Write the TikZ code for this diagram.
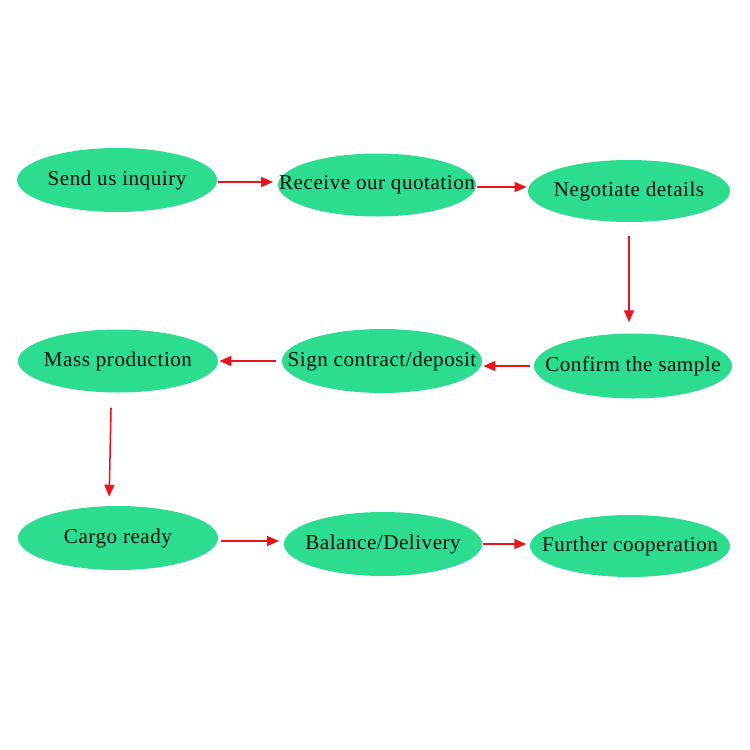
\documentclass[tikz,border=0pt]{standalone}
\usepackage{fontspec}
\setmainfont{Liberation Serif}[LetterSpace=2.5]
\usetikzlibrary{arrows.meta,shapes.geometric}
\definecolor{Leaf}{HTML}{2CDC8F}
\definecolor{Flow}{HTML}{E8141B}
\definecolor{Ink}{HTML}{111111}

\begin{document}
\begin{tikzpicture}[x=0.03cm,y=-0.03cm,>={Triangle[length=0.36cm,width=0.3cm]},
  step box/.style={ellipse,fill=Leaf,draw=none,inner xsep=-1.2cm,inner ysep=0pt,minimum width=6cm,minimum height=1.92cm,text=Ink,font=\fontsize{18}{21}\selectfont},
  flow/.style={->,draw=Flow,line width=1.3pt}]
\useasboundingbox[fill=white] (0,0) rectangle (750,750);
% first row
\node[step box] (inquiry) at (117,180) {Send us inquiry};
\node[step box,minimum width=5.94cm,minimum height=1.89cm] (quotation) at (377,185) {Receive our quotation};
\node[step box,minimum width=6.06cm,minimum height=1.86cm] (negotiate) at (629,191) {Negotiate details};
% second row
\node[step box,minimum width=5.94cm,minimum height=1.95cm] (sample) at (633,366) {Confirm the sample};
\node[step box] (contract) at (382,361) {Sign contract/deposit};
\node[step box,minimum height=1.89cm] (production) at (118,361) {Mass production};
% third row
\node[step box] (cargo) at (118,538) {Cargo ready};
\node[step box,minimum width=5.94cm] (delivery) at (383,544) {Balance/Delivery};
\node[step box,minimum width=6cm,minimum height=1.86cm] (cooperation) at (630,546) {Further cooperation};
% arrows
\draw[flow,shorten <=1pt,shorten >=4pt] ([yshift=-0.06cm]inquiry.east) -- ([yshift=-0.06cm]inquiry.east -| quotation.west);
\draw[flow,shorten <=1pt,shorten >=1pt] ([yshift=-0.06cm]quotation.east) -- ([yshift=-0.06cm]quotation.east -| negotiate.west);
\draw[flow,shorten <=0.42cm,shorten >=0.33cm] (negotiate.south) -- (negotiate.south |- sample.north);
\draw[flow,shorten <=3pt,shorten >=1pt] (sample.west) -- (sample.west -| contract.east);
\draw[flow,shorten <=5pt,shorten >=1pt] (contract.west) -- (contract.west -| production.east);
\draw[flow,shorten <=0.45cm,shorten >=0.27cm] ([xshift=-0.2cm]production.south) -- ([xshift=-0.27cm]cargo.north);
\draw[flow,shorten <=2pt,shorten >=4pt] ([yshift=-0.09cm]cargo.east) -- ([yshift=-0.09cm]cargo.east -| delivery.west);
\draw[flow,shorten <=1pt,shorten >=3pt] (delivery.east) -- (delivery.east -| cooperation.west);
\end{tikzpicture}
\end{document}
